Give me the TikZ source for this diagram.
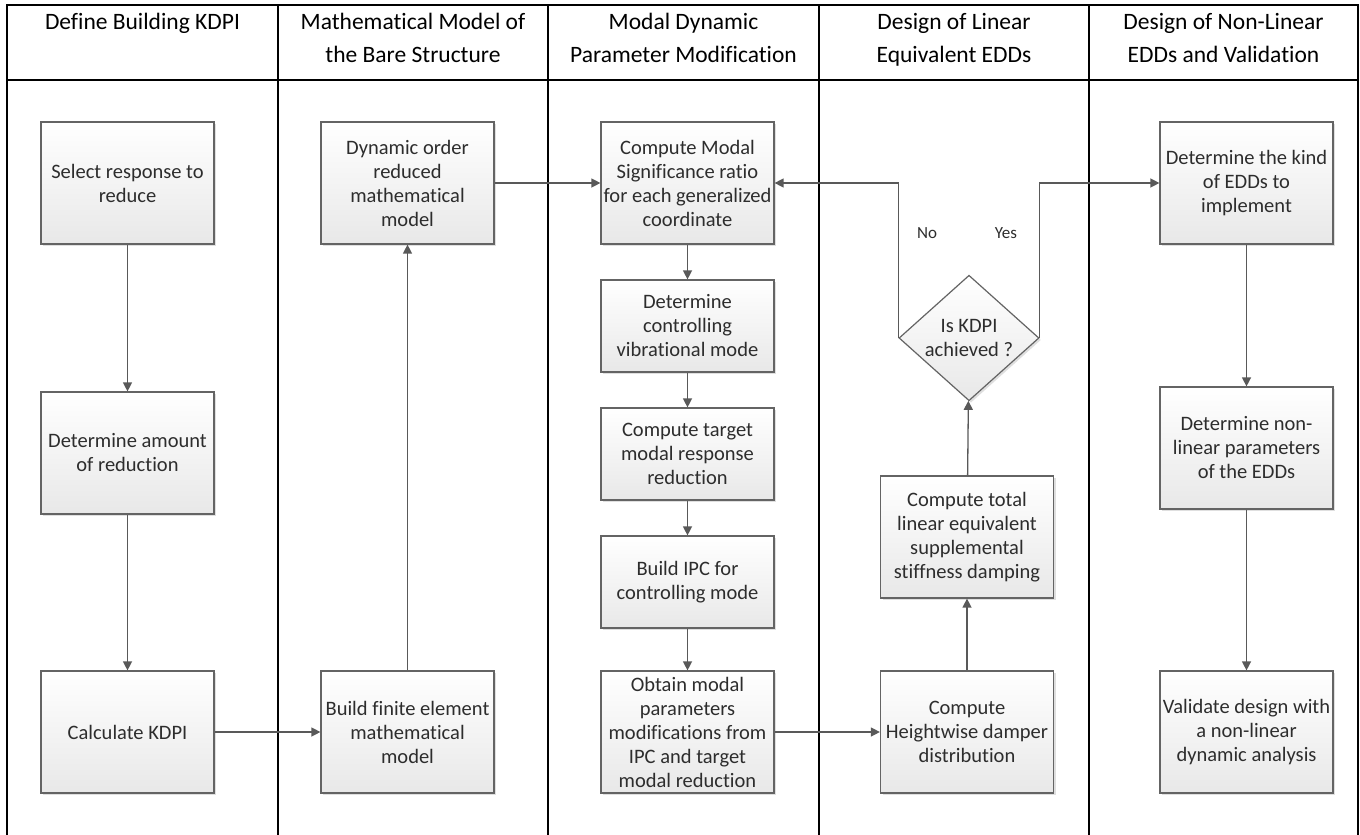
\documentclass[tikz,border=0pt]{standalone}
\usepackage{fontspec}
\setmainfont{Carlito}[Ligatures=NoCommon]
\usetikzlibrary{arrows.meta,shapes.geometric,shadows}
\definecolor{lineg}{RGB}{89,89,89}
\definecolor{boxborder}{RGB}{100,100,100}
\definecolor{boxbot}{RGB}{232,232,232}
\definecolor{txt}{RGB}{45,45,45}
\tikzset{
  stepbox/.style={draw=boxborder, line width=1.2pt, top color=white, bottom color=boxbot,
    minimum width=173pt, inner sep=2pt, align=center, text=txt,
    font=\fontsize{20.5}{24}\selectfont,
    drop shadow={shadow xshift=2pt, shadow yshift=-2pt, opacity=0.25, fill=gray}},
  tallbox/.style={stepbox, minimum height=122pt},
  shortbox/.style={stepbox, minimum height=92pt},
  decision/.style={draw=boxborder, line width=1.2pt, diamond, top color=white, bottom color=boxbot,
    minimum width=140pt, minimum height=114pt, inner sep=0pt, align=center, text=txt,
    font=\fontsize{20.5}{24}\selectfont,
    drop shadow={shadow xshift=2pt, shadow yshift=-2pt, opacity=0.25, fill=gray}},
  conn/.style={draw=lineg, line width=1.3pt, -{Triangle[length=9pt,width=9pt]}},
  header/.style={anchor=north, inner sep=0pt, align=center, text=black,
    font=\fontsize{23.5}{33}\selectfont},
  frame/.style={draw=black, line width=2.2pt},
  lbl/.style={text=txt, font=\fontsize{17}{20}\selectfont, inner sep=0pt}
}
\begin{document}
\begin{tikzpicture}[x=1pt,y=-1pt]
\useasboundingbox (0,0) rectangle (1360,835);
% frame
\draw[frame] (7,836) -- (7,5) -- (1358,5) -- (1358,836);
\draw[frame] (7,80) -- (1358,80);
\foreach \xx in {278,548,819,1089} \draw[frame] (\xx,5) -- (\xx,836);
% headers
\node[header] (h1) at (142.5,13) {Define Building KDPI};
\node[header] (h2) at (413,13) {Mathematical Model of\\the Bare Structure};
\node[header] (h3) at (683.5,13) {Modal Dynamic\\Parameter Modification};
\node[header] (h4) at (954,13) {Design of Linear\\Equivalent EDDs};
\node[header] (h5) at (1223.5,13) {Design of Non-Linear\\EDDs and Validation};
% column 1
\node[tallbox] (sel) at (127.5,183) {Select response to\\reduce};
\node[tallbox] (amt) at (127.5,453) {Determine amount\\of reduction};
\node[tallbox] (calc) at (127.5,732) {Calculate KDPI};
% column 2
\node[tallbox] (dyn) at (407.5,183) {Dynamic order\\reduced\\mathematical\\model};
\node[tallbox] (fem) at (407.5,732) {Build finite element\\mathematical\\model};
% column 3
\node[tallbox] (msr) at (687.5,183) {Compute Modal\\Significance ratio\\for each generalized\\coordinate};
\node[shortbox] (ctl) at (687.5,326) {Determine\\controlling\\vibrational mode};
\node[shortbox] (tgt) at (687.5,454) {Compute target\\modal response\\reduction};
\node[shortbox] (ipc) at (687.5,582) {Build IPC for\\controlling mode};
\node[tallbox] (obt) at (687.5,732) {Obtain modal\\parameters\\modifications from\\IPC and target\\modal reduction};
% column 4
\node[decision] (dia) at (969,338) {Is KDPI\\achieved ?};
\node[tallbox] (tot) at (967,537) {Compute total\\linear equivalent\\supplemental\\stiffness damping};
\node[tallbox] (hgt) at (967,732) {Compute\\Heightwise damper\\distribution};
% column 5
\node[tallbox] (kind) at (1246.5,183) {Determine the kind\\of EDDs to\\implement};
\node[tallbox] (nlp) at (1246.5,448) {Determine non-\\linear parameters\\of the EDDs};
\node[tallbox] (val) at (1246.5,732) {Validate design with\\a non-linear\\dynamic analysis};
% connectors
\draw[conn] (sel) -- (amt);
\draw[conn] (amt) -- (calc);
\draw[conn] (calc) -- (fem);
\draw[conn] (fem) -- (dyn);
\draw[conn] (dyn) -- (msr);
\draw[conn] (msr) -- (ctl);
\draw[conn] (ctl) -- (tgt);
\draw[conn] (tgt) -- (ipc);
\draw[conn] (ipc) -- (obt);
\draw[conn] (obt) -- (hgt);
\draw[conn] (hgt) -- (tot);
\draw[conn] (tot) -- (dia);
\draw[conn] (dia.west) |- (msr.east);
\draw[conn] (dia.east) |- (kind.west);
\draw[conn] (kind) -- (nlp);
\draw[conn] (nlp) -- (val);
\node[lbl] (no) at (927,233) {No};
\node[lbl] (yes) at (1006,233) {Yes};
\end{tikzpicture}
\end{document}
